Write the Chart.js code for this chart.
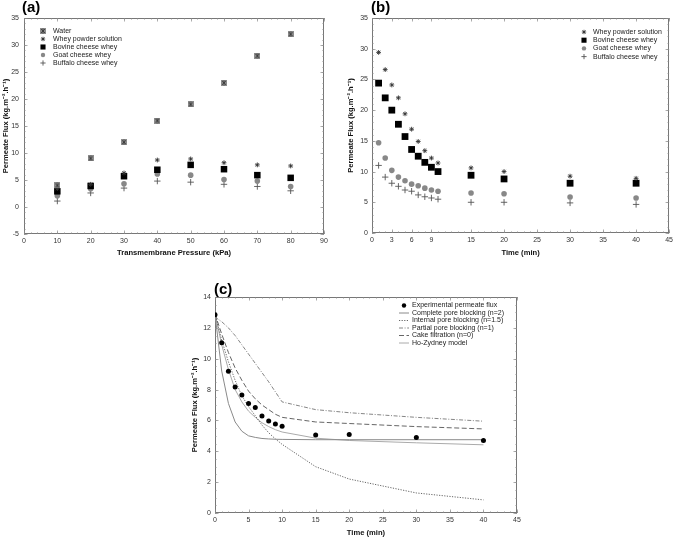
<!DOCTYPE html>
<html>
<head>
<meta charset="utf-8">
<script src="https://cdn.jsdelivr.net/npm/chart.js@4.4.1/dist/chart.umd.min.js"></script>
<style>
  body { margin: 0; background: #fff; width: 676px; height: 537px; position: relative; overflow: hidden; font-family: "Liberation Sans", Arial, sans-serif; }
  canvas { position: absolute; }
  .tag { position: absolute; font-weight: bold; font-size: 15px; line-height: 15px; color: #000; }
</style>
</head>
<body>
<canvas id="ca" width="336" height="265" style="left:0;top:0"></canvas>
<canvas id="cb" width="340" height="265" style="left:336px;top:0"></canvas>
<canvas id="cc" width="350" height="282" style="left:180px;top:255px"></canvas>
<div class="tag" style="left:22px;top:-1px">(a)</div>
<div class="tag" style="left:371px;top:-1px">(b)</div>
<div class="tag" style="left:214px;top:281px">(c)</div>
<script>
// (a) flux vs transmembrane pressure
const pressure = [10, 20, 30, 40, 50, 60, 70, 80];
const waterA = [4.0, 9.0, 12.0, 16.0, 19.0, 23.0, 28.0, 32.0];
const wheyPowderA = [3.4, 4.2, 6.3, 8.7, 8.9, 8.2, 7.8, 7.6];
const bovineA = [2.9, 3.9, 5.7, 6.9, 7.8, 7.0, 5.9, 5.4];
const goatA = [2.1, 3.4, 4.3, 6.1, 5.9, 5.1, 4.8, 3.8];
const buffaloA = [1.1, 2.6, 3.5, 4.8, 4.6, 4.2, 3.8, 3.0];

// (b) flux vs time, 4 wheys
const timeB = [1, 2, 3, 4, 5, 6, 7, 8, 9, 10, 15, 20, 30, 40];
const wheyPowderB = [29.4, 26.6, 24.1, 22.0, 19.4, 16.9, 14.9, 13.4, 12.2, 11.4, 10.6, 10.0, 9.25, 8.9];
const bovineB = [24.4, 22.0, 20.0, 17.7, 15.7, 13.6, 12.5, 11.5, 10.7, 10.0, 9.4, 8.8, 8.1, 8.1];
const goatB = [14.7, 12.2, 10.2, 9.1, 8.5, 7.95, 7.7, 7.3, 7.0, 6.8, 6.5, 6.4, 5.85, 5.7];
const buffaloB = [11.0, 9.1, 8.1, 7.6, 7.0, 6.8, 6.2, 5.9, 5.7, 5.5, 5.0, 5.0, 4.9, 4.65];
const xTicksB = [0, 3, 6, 9, 15, 20, 25, 30, 35, 40, 45];

// (c) model fits
const timeC = [0, 1, 2, 3, 4, 5, 6, 7, 8, 9, 10, 15, 20, 30, 40];
const experimentalC = [12.85, 11.04, 9.18, 8.17, 7.65, 7.09, 6.83, 6.29, 5.96, 5.77, 5.62, 5.06, 5.08, 4.9, 4.7];
const completeC = [12.9, 9.2, 7.1, 5.9, 5.3, 5.0, 4.9, 4.83, 4.8, 4.78, 4.77, 4.75, 4.75, 4.75, 4.75];
const internalC = [12.9, 11.2, 9.8, 8.6, 7.6, 6.9, 6.3, 5.7, 5.2, 4.8, 4.45, 3.0, 2.2, 1.3, 0.85];
const partialC = [12.7, 12.4, 12.0, 11.5, 10.9, 10.3, 9.7, 9.1, 8.5, 7.85, 7.2, 6.7, 6.5, 6.2, 5.95];
const cakeC = [12.9, 11.6, 10.4, 9.4, 8.6, 7.9, 7.4, 7.0, 6.7, 6.4, 6.2, 5.9, 5.8, 5.6, 5.45];
const hoZydneyC = [12.9, 10.9, 9.3, 8.0, 7.2, 6.6, 6.2, 5.85, 5.6, 5.4, 5.25, 4.85, 4.7, 4.55, 4.42];

const FONT = '"Liberation Sans", Arial, sans-serif';
const tickFont = { family: FONT, size: 7 };
const titleFont = { family: FONT, size: 7.6, weight: 'bold' };
const yTitle = 'Permeate Flux (kg.m\u207B\u00B2.h\u207B\u00B9)';

const pts = (xs, ys) => xs.map((x, i) => ({ x: x, y: ys[i] }));

// gray square with a cross, for "Water"
function waterMark() {
  const c = document.createElement('canvas');
  c.width = 6; c.height = 6;
  const g = c.getContext('2d');
  g.fillStyle = '#8c8c8c';
  g.fillRect(0, 0, 6, 6);
  g.strokeStyle = '#333';
  g.lineWidth = 0.8;
  g.beginPath();
  g.moveTo(1, 1); g.lineTo(5, 5);
  g.moveTo(5, 1); g.lineTo(1, 5);
  g.moveTo(3, 0.5); g.lineTo(3, 5.5);
  g.stroke();
  return c;
}

// frame + inward ticks like the original
const framePlugin = {
  id: 'frame',
  beforeDatasetsDraw(chart, args, o) {
    const { ctx, chartArea: a, scales: { x, y } } = chart;
    ctx.save();
    ctx.strokeStyle = '#777';
    ctx.lineWidth = 1;
    ctx.strokeRect(Math.round(a.left) + 0.5, Math.round(a.top) + 0.5,
      Math.round(a.right - a.left) - 1, Math.round(a.bottom - a.top) - 1);
    ctx.lineWidth = 0.7;
    ctx.strokeStyle = '#888';
    const tickX = (v, len) => {
      const px = Math.round(x.getPixelForValue(v)) + 0.5;
      ctx.moveTo(px, a.bottom); ctx.lineTo(px, a.bottom - len);
      ctx.moveTo(px, a.top); ctx.lineTo(px, a.top + len);
    };
    const tickY = (v, len) => {
      const py = Math.round(y.getPixelForValue(v)) + 0.5;
      ctx.moveTo(a.left, py); ctx.lineTo(a.left + len, py);
      ctx.moveTo(a.right, py); ctx.lineTo(a.right - len, py);
    };
    ctx.beginPath();
    for (let v = x.min; v <= x.max + 1e-9; v += o.xMinor) tickX(v, 1.6);
    for (let v = y.min; v <= y.max + 1e-9; v += o.yMinor) tickY(v, 1.6);
    x.ticks.forEach(t => tickX(t.value, 3.5));
    y.ticks.forEach(t => tickY(t.value, 3.5));
    ctx.stroke();
    ctx.restore();
  }
};

// legend drawn inside the plot area as a column
const keyPlugin = {
  id: 'key',
  afterDraw(chart, args, o) {
    const ctx = chart.ctx;
    ctx.save();
    ctx.font = '7px ' + FONT;
    ctx.textBaseline = 'middle';
    chart.data.datasets.forEach((d, i) => {
      const yy = o.y + i * o.dy;
      if (d.showLine) {
        ctx.strokeStyle = d.borderColor;
        ctx.lineWidth = d.borderWidth;
        ctx.setLineDash(d.borderDash || []);
        ctx.beginPath();
        ctx.moveTo(o.x - 5, yy); ctx.lineTo(o.x + 5, yy);
        ctx.stroke();
        ctx.setLineDash([]);
      } else {
        ctx.fillStyle = d.backgroundColor;
        ctx.strokeStyle = d.borderColor;
        ctx.lineWidth = d.borderWidth;
        Chart.helpers.drawPoint(ctx, {
          pointStyle: d.pointStyle, rotation: 0,
          radius: d.keyRadius || d.pointRadius, borderWidth: d.borderWidth
        }, o.x, yy);
      }
      ctx.fillStyle = '#222';
      ctx.fillText(d.label, o.textX, yy);
    });
    ctx.restore();
  }
};

function axes(cfg) {
  return {
    x: {
      type: 'linear', min: cfg.xMin, max: cfg.xMax,
      ticks: { stepSize: cfg.xStep, padding: 3, font: tickFont, color: '#333', maxRotation: 0 },
      grid: { display: false, drawTicks: false },
      border: { display: false },
      title: { display: true, text: cfg.xTitle, font: titleFont, color: '#111', padding: { top: 0, bottom: cfg.xTitlePad } },
      afterFit: s => { s.height = cfg.xH; },
      afterBuildTicks: cfg.xTicks ? (s => { s.ticks = cfg.xTicks.map(v => ({ value: v })); }) : undefined
    },
    y: {
      type: 'linear', min: cfg.yMin, max: cfg.yMax,
      ticks: { stepSize: cfg.yStep, padding: cfg.yPad, font: tickFont, color: '#333' },
      grid: { display: false, drawTicks: false },
      border: { display: false },
      title: { display: true, text: yTitle, font: titleFont, color: '#111', padding: { top: cfg.yTitlePad, bottom: 0 } },
      afterFit: s => { s.width = cfg.yW; }
    }
  };
}

const base = {
  responsive: false,
  animation: false,
  events: [],
};

const star = (label, data) => ({ label: label, data: data, pointStyle: 'star', pointRadius: 2.4, keyRadius: 2.2, borderWidth: 0.9, backgroundColor: '#333', borderColor: '#333' });
const square = (label, data, r) => ({ label: label, data: data, pointStyle: 'rect', pointRadius: r, keyRadius: 3.6, borderWidth: 0, backgroundColor: '#000', borderColor: '#000' });
const dot = (label, data) => ({ label: label, data: data, pointStyle: 'circle', pointRadius: 2.8, keyRadius: 2.2, borderWidth: 0, backgroundColor: '#888', borderColor: '#888' });
const plus = (label, data) => ({ label: label, data: data, pointStyle: 'cross', pointRadius: 3.2, keyRadius: 2.6, borderWidth: 0.9, backgroundColor: '#555', borderColor: '#555' });

// ---------- (a)
new Chart(document.getElementById('ca'), {
  type: 'scatter',
  data: {
    datasets: [
      { label: 'Water', data: pts(pressure, waterA), pointStyle: waterMark(), pointRadius: 3, borderWidth: 0, backgroundColor: '#8c8c8c', borderColor: '#333' },
      star('Whey powder solution', pts(pressure, wheyPowderA)),
      square('Bovine cheese whey', pts(pressure, bovineA), 4.6),
      dot('Goat cheese whey', pts(pressure, goatA)),
      plus('Buffalo cheese whey', pts(pressure, buffaloA))
    ]
  },
  options: Object.assign({}, base, {
    layout: { padding: { top: 18, right: 12, left: 0, bottom: 0 } },
    scales: axes({ xMin: 0, xMax: 90, xStep: 10, xTitle: 'Transmembrane Pressure (kPa)', xTitlePad: 7.3, xH: 31,
      yMin: -5, yMax: 35, yStep: 5, yPad: 5, yTitlePad: 1.1, yW: 24 }),
    plugins: {
      legend: { display: false }, tooltip: { enabled: false },
      frame: { xMinor: 2, yMinor: 1 },
      key: { x: 43, textX: 53, y: 31, dy: 8 }
    }
  }),
  plugins: [framePlugin, keyPlugin]
});

// ---------- (b)
new Chart(document.getElementById('cb'), {
  type: 'scatter',
  data: {
    datasets: [
      star('Whey powder solution', pts(timeB, wheyPowderB)),
      square('Bovine cheese whey', pts(timeB, bovineB), 4.8),
      dot('Goat cheese whey', pts(timeB, goatB)),
      plus('Buffalo cheese whey', pts(timeB, buffaloB))
    ]
  },
  options: Object.assign({}, base, {
    layout: { padding: { top: 18, right: 4, left: 0, bottom: 0 } },
    scales: axes({ xMin: 0, xMax: 45, xStep: 5, xTicks: xTicksB, xTitle: 'Time (min)', xTitlePad: 7.3, xH: 32,
      yMin: 0, yMax: 35, yStep: 5, yPad: 4, yTitlePad: 10.6, yW: 36 }),
    plugins: {
      legend: { display: false }, tooltip: { enabled: false },
      frame: { xMinor: 1, yMinor: 1 },
      key: { x: 248, textX: 257, y: 32, dy: 8.2 }
    }
  }),
  plugins: [framePlugin, keyPlugin]
});

// ---------- (c)
const line = (label, ys, color, dash, w) => ({
  label: label, data: pts(timeC, ys), showLine: true, pointRadius: 0,
  borderColor: color, backgroundColor: color, borderWidth: w, borderDash: dash, tension: 0
});

new Chart(document.getElementById('cc'), {
  type: 'scatter',
  data: {
    datasets: [
      { label: 'Experimental permeate flux', data: pts(timeC, experimentalC), pointStyle: 'circle', pointRadius: 2.5, keyRadius: 2.2, borderWidth: 0, backgroundColor: '#000', borderColor: '#000' },
      line('Complete pore blocking (n=2)', completeC, '#8a8a8a', [], 1),
      line('Internal pore blocking (n=1.5)', internalC, '#555', [1.2, 1.4], 0.9),
      line('Partial pore blocking (n=1)', partialC, '#777', [4, 1.6, 1, 1.6], 0.9),
      line('Cake filtration (n=0)', cakeC, '#555', [5, 2.5], 0.9),
      line('Ho-Zydney model', hoZydneyC, '#aaa', [], 1)
    ]
  },
  options: Object.assign({}, base, {
    layout: { padding: { top: 42, right: 13, left: 0, bottom: 0 } },
    scales: axes({ xMin: 0, xMax: 45, xStep: 5, xTitle: 'Time (min)', xTitlePad: 0, xH: 24,
      yMin: 0, yMax: 14, yStep: 2, yPad: 4, yTitlePad: 10.6, yW: 35 }),
    plugins: {
      legend: { display: false }, tooltip: { enabled: false },
      frame: { xMinor: 1, yMinor: 0.5 },
      key: { x: 224, textX: 232, y: 50.5, dy: 7.5 }
    }
  }),
  plugins: [framePlugin, keyPlugin]
});
</script>
</body>
</html>
